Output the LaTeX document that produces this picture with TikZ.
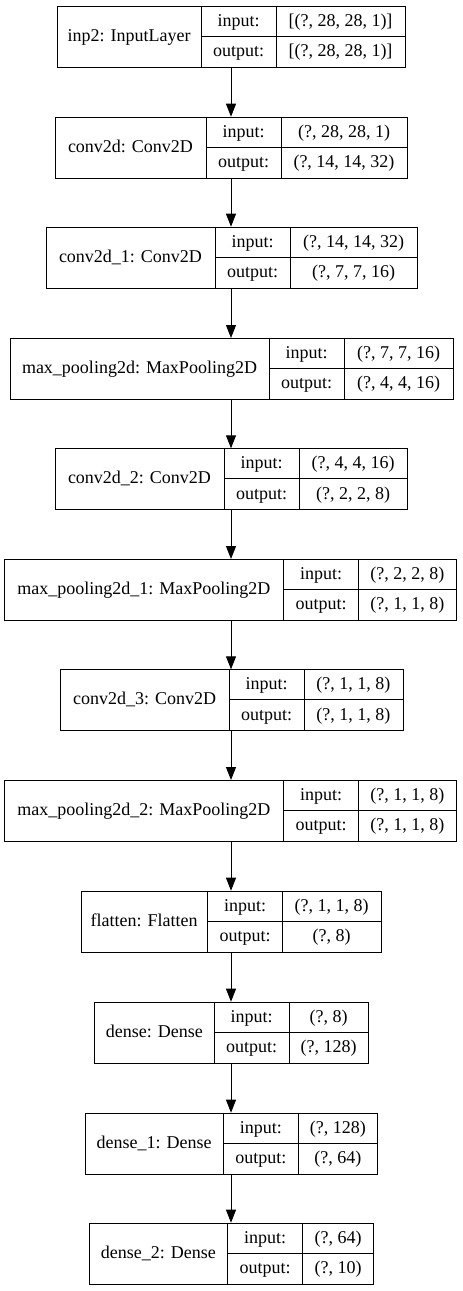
\documentclass[tikz,border=0pt]{standalone}
\usepackage{fontspec}
\setmainfont{Liberation Serif}
\usetikzlibrary{arrows.meta}
\newcommand{\klayer}[9]{%
  \node[box, minimum width={(#6-#3)*1pt}] (#1) at (#3,#2) {};
  \draw[cell] (#4,#2) -- (#4,#2+61);
  \draw[cell] (#5,#2) -- (#5,#2+61);
  \draw[cell] (#4,#2+30.5) -- (#6,#2+30.5);
  \node[txt] (#1lab) at ({(#3+#4)/2},#2+35.5) {#7};
  \node[txt] (#1ik) at ({(#4+#5)/2},#2+20.3) {input:};
  \node[txt] (#1ok) at ({(#4+#5)/2},#2+50.8) {output:};
  \node[txt] (#1iv) at ({(#5+#6)/2},#2+20.3) {#8};
  \node[txt] (#1ov) at ({(#5+#6)/2},#2+50.8) {#9};
}
\begin{document}
\begin{tikzpicture}[x=1pt,y=-1pt,
  box/.style={draw=black, line width=1pt, inner sep=0pt, anchor=north west, minimum height=61pt},
  cell/.style={draw=black, line width=1pt},
  txt/.style={anchor=base, inner sep=0pt, font=\fontsize{18}{20}\selectfont},
  edge/.style={draw=black, line width=1pt, -{Triangle[length=13pt,width=10pt]}}]
\fill[white] (0,0) rectangle (463,1291);
\useasboundingbox (0,0) rectangle (463,1291);
\coordinate (ax) at (231,0);
\klayer{l1}{6}{57}{201}{276}{405}{inp2: InputLayer}{[(?, 28, 28, 1)]}{[(?, 28, 28, 1)]}
\klayer{l2}{116.7}{55}{206}{281}{407}{conv2d: Conv2D}{(?, 28, 28, 1)}{(?, 14, 14, 32)}
\klayer{l3}{226.7}{46}{215}{290}{417}{conv2d\_1: Conv2D}{(?, 14, 14, 32)}{(?, 7, 7, 16)}
\klayer{l4}{338}{10}{269}{344}{453}{max\_pooling2d: MaxPooling2D}{(?, 7, 7, 16)}{(?, 4, 4, 16)}
\klayer{l5}{448.3}{55}{224}{299}{407}{conv2d\_2: Conv2D}{(?, 4, 4, 16)}{(?, 2, 2, 8)}
\klayer{l6}{559}{4.3}{283.3}{358.7}{456}{max\_pooling2d\_1: MaxPooling2D}{(?, 2, 2, 8)}{(?, 1, 1, 8)}
\klayer{l7}{669.3}{60}{229.3}{304}{402.7}{conv2d\_3: Conv2D}{(?, 1, 1, 8)}{(?, 1, 1, 8)}
\klayer{l8}{780}{4.3}{283.3}{358.7}{456}{max\_pooling2d\_2: MaxPooling2D}{(?, 1, 1, 8)}{(?, 1, 1, 8)}
\klayer{l9}{890.7}{80.7}{207.7}{282.3}{381}{flatten: Flatten}{(?, 1, 1, 8)}{(?, 8)}
\klayer{l10}{1001.7}{94.3}{214.3}{289}{368.3}{dense: Dense}{(?, 8)}{(?, 128)}
\klayer{l11}{1112.7}{85}{223.3}{298.3}{377.3}{dense\_1: Dense}{(?, 128)}{(?, 64)}
\klayer{l12}{1222.7}{89}{227.7}{302.7}{373.3}{dense\_2: Dense}{(?, 64)}{(?, 10)}
\foreach \a/\b in {l1/l2,l2/l3,l3/l4,l4/l5,l5/l6,l6/l7,l7/l8,l8/l9,l9/l10,l10/l11,l11/l12}
  \draw[edge] (\a.south -| ax) -- (\b.north -| ax);
\end{tikzpicture}
\end{document}
